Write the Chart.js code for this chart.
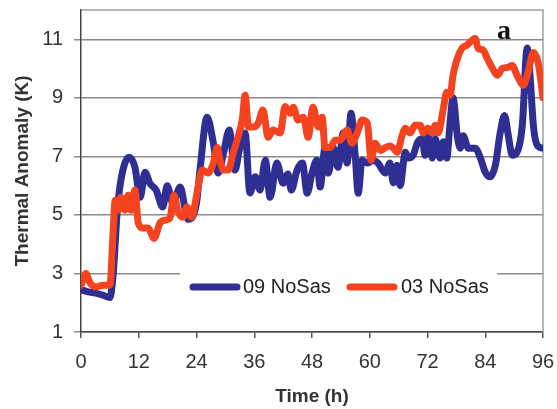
<!DOCTYPE html>
<html>
<head>
<meta charset="utf-8">
<script src="https://cdn.jsdelivr.net/npm/chart.js@4/dist/chart.umd.min.js"></script>
<style>
  html, body { margin: 0; padding: 0; background: #fff; }
  #wrap { width: 557px; height: 409px; }
</style>
</head>
<body>
<div id="wrap"><canvas id="chart" width="557" height="409"></canvas></div>
<script>
// Series names, as shown in the legend
const seriesNames = ['09 NoSas', '03 NoSas'];

// 09 NoSas: time (h) and thermal anomaly (K)
const hours09 = [0, 1.5, 3, 4.5, 6, 6.7, 7.5, 8.3, 10, 11.2, 12.3, 13.3, 14.3, 15.6, 17, 17.9, 19.1, 20.6, 21.8, 22.3,
  24, 24.7, 26.2, 27.5, 28.5, 29.6, 30.8, 32, 33, 34.1, 35.1, 36.2, 37.2, 38.3, 39.3, 40.7, 42, 43, 43.7, 44.9,
  46, 47, 48, 49, 49.7, 50.7, 51.4, 52.4, 53.4, 54.5, 55.3, 56.1, 57, 57.6, 58.4, 59.5, 60.7, 61.7, 63.2, 64.2,
  64.9, 65.7, 66.3, 67.4, 68, 69, 70, 70.9, 71.5, 72.1, 73, 73.6, 74.6, 75.3, 76, 76.7, 77.3, 78.2, 78.8, 79.4,
  80.5, 81.9, 83, 84, 85, 86.1, 87.1, 88, 88.8, 89.6, 90.6, 91.7, 92.7, 93.3, 94, 94.8, 96];
const anomaly09 = [2.45, 2.37, 2.33, 2.26, 2.18, 3.0, 5.06, 6.2, 6.97, 6.63, 5.6, 6.46, 6.08, 5.85, 5.27, 6.0, 5.4, 5.95, 5.06, 4.85,
  5.4, 6.5, 8.34, 7.45, 6.43, 7.1, 7.9, 6.53, 7.3, 7.8, 5.75, 6.3, 5.85, 6.87, 5.6, 6.77, 6.08, 6.4, 5.85, 6.53,
  6.77, 5.74, 6.43, 6.87, 5.95, 7.3, 6.43, 7.3, 6.63, 7.8, 6.77, 8.47, 6.97, 5.74, 6.87, 6.77, 6.87, 6.77, 6.43, 6.77,
  6.1, 6.7, 6.0, 7.14, 6.94, 7.04, 7.5, 7.6, 7.04, 7.7, 6.94, 7.6, 6.94, 7.5, 6.94, 8.17, 9.0, 7.7, 7.28, 7.7,
  7.28, 7.28, 6.94, 6.46, 6.3, 6.7, 7.8, 8.4, 7.7, 7.04, 7.14, 8.06, 10.7, 9.77, 8.06, 7.38, 7.28];

// 03 NoSas: time (h) and thermal anomaly (K)
const hours03 = [0, 1, 1.9, 3.1, 4.6, 6, 6.7, 7.1, 7.7, 8.3, 9.1, 9.8, 10.4, 11.2, 11.9, 12.9, 13.9, 15.2, 16.4, 17.5,
  18.5, 19.3, 20.2, 21.2, 22, 23, 24.1, 25.2, 26.4, 27.5, 28.3, 28.9, 29.6, 30.6, 31.6, 32.6, 33.5, 34.1, 34.8, 35.8,
  36.8, 37.8, 38.9, 39.9, 41.4, 42.4, 43.5, 44.1, 45.1, 46.2, 47.2, 48.2, 49.3, 50.1, 50.7, 51.8, 52.8, 53.8, 55.3, 56.3,
  57.4, 58.4, 59.5, 60.3, 61.1, 62.2, 63.2, 64.2, 64.9, 65.7, 66.7, 67.4, 68.4, 69.4, 70.5, 71.1, 72.1, 73, 73.6, 74.2,
  75.3, 76, 76.7, 77.3, 78.2, 79.2, 80.2, 81.9, 82.5, 83.6, 84.4, 85.4, 86.5, 87.5, 88.6, 89.6, 90.6, 91.9, 92.9, 94,
  95, 96];
const anomaly03 = [2.6, 3.0, 2.67, 2.54, 2.6, 2.6, 4.5, 5.5, 5.16, 5.6, 5.16, 5.67, 5.16, 5.85, 4.72, 4.55, 4.55, 4.2, 4.72, 4.82,
  4.89, 5.67, 5.1, 4.92, 5.27, 4.92, 5.74, 6.53, 6.43, 6.77, 7.3, 6.87, 6.53, 6.53, 7.1, 7.65, 8.24, 9.09, 8.0, 8.0,
  8.13, 8.58, 7.65, 7.9, 7.8, 8.7, 8.47, 8.68, 8.24, 8.34, 7.65, 8.68, 8.0, 8.34, 7.3, 7.3, 7.55, 7.55, 7.9, 7.45,
  7.8, 8.24, 8.13, 6.87, 7.45, 7.2, 7.3, 7.35, 7.28, 7.14, 7.7, 7.96, 7.8, 8.06, 8.06, 7.8, 7.96, 7.8, 8.06, 7.8,
  8.64, 9.19, 9.09, 9.77, 10.35, 10.7, 10.8, 11.03, 10.7, 10.62, 10.35, 10.04, 9.77, 10.0, 10.04, 10.1, 9.77, 9.43, 9.87, 10.55,
  10.2, 9.0];

// Axis tick values
const xTicks = [0, 12, 24, 36, 48, 60, 72, 84, 96];
const yTicks = [1, 3, 5, 7, 9, 11];

const panelLetter = 'a';

const BLUE = '#2f2e92';
const RED = '#f4431f';
const SANS = '"Liberation Sans", Arial, Helvetica, sans-serif';

function toPoints(xs, ys) {
  return xs.map((x, i) => ({ x: x, y: ys[i] }));
}

// Legend sitting inside the plot on a white box, plus the plot frame and panel letter
const plotDecor = {
  id: 'plotDecor',
  beforeDatasetsDraw(chart) {
    const { ctx, chartArea: a } = chart;
    ctx.save();
    // light frame on top and right of the plot
    ctx.strokeStyle = '#a0a0a0';
    ctx.lineWidth = 1.5;
    ctx.beginPath();
    ctx.moveTo(a.left, a.top);
    ctx.lineTo(a.right, a.top);
    ctx.lineTo(a.right, a.bottom);
    ctx.stroke();

    // legend box
    const box = { left: 180, top: 262, width: 317, height: 48 };
    ctx.fillStyle = '#ffffff';
    ctx.fillRect(box.left, box.top, box.width, box.height);
    const cy = box.top + box.height / 2 + 1;
    const items = [
      { sx: 190, tx: 243, ds: chart.data.datasets[0] },
      { sx: 347, tx: 401, ds: chart.data.datasets[1] }
    ];
    ctx.font = '20px ' + SANS;
    ctx.textBaseline = 'middle';
    ctx.textAlign = 'left';
    items.forEach(it => {
      ctx.strokeStyle = it.ds.borderColor;
      ctx.lineWidth = 7;
      ctx.lineCap = 'round';
      ctx.beginPath();
      ctx.moveTo(it.sx + 3, cy);
      ctx.lineTo(it.sx + 47, cy);
      ctx.stroke();
      ctx.fillStyle = '#222';
      ctx.fillText(it.ds.label, it.tx, cy);
    });
    ctx.restore();
  },
  afterDatasetsDraw(chart) {
    const { ctx } = chart;
    ctx.save();
    ctx.font = 'bold 28px "Liberation Serif", "Times New Roman", serif';
    ctx.fillStyle = '#111';
    ctx.textBaseline = 'alphabetic';
    ctx.textAlign = 'left';
    ctx.fillText(panelLetter, 497, 39);
    ctx.restore();
  }
};

new Chart(document.getElementById('chart'), {
  type: 'line',
  data: {
    datasets: [
      {
        label: seriesNames[0],
        data: toPoints(hours09, anomaly09),
        borderColor: BLUE,
        borderWidth: 7,
        pointRadius: 0,
        fill: false,
        cubicInterpolationMode: 'monotone',
        borderJoinStyle: 'round',
        borderCapStyle: 'round',
        order: 1
      },
      {
        label: seriesNames[1],
        data: toPoints(hours03, anomaly03),
        borderColor: RED,
        borderWidth: 7,
        pointRadius: 0,
        fill: false,
        cubicInterpolationMode: 'monotone',
        borderJoinStyle: 'round',
        borderCapStyle: 'round',
        order: 0
      }
    ]
  },
  options: {
    responsive: false,
    animation: false,
    devicePixelRatio: 1,
    layout: { padding: { left: 0, right: 14, top: 10, bottom: 0 } },
    plugins: { legend: { display: false }, tooltip: { enabled: false } },
    scales: {
      x: {
        type: 'linear',
        min: 0,
        max: 96,
        afterBuildTicks: s => { s.ticks = xTicks.map(v => ({ value: v })); },
        afterFit: s => { s.height = 77; s.paddingLeft = 0; s.paddingRight = 0; },
        grid: { drawOnChartArea: false, tickLength: 6, color: '#555', lineWidth: 1.5 },
        border: { color: '#444', width: 1.5 },
        ticks: { font: { family: SANS, size: 20 }, color: '#333', padding: 12, maxRotation: 0, autoSkip: false },
        title: { display: true, text: 'Time (h)', font: { family: SANS, size: 19, weight: 'bold' }, color: '#333', padding: { top: 0, bottom: 1 } }
      },
      y: {
        type: 'linear',
        min: 1,
        max: 12,
        afterBuildTicks: s => { s.ticks = yTicks.map(v => ({ value: v })); },
        afterFit: s => { s.width = 81; s.paddingTop = 0; s.paddingBottom = 0; },
        grid: { color: '#8a8a8a', lineWidth: 1.5, tickLength: 7 },
        border: { color: '#444', width: 1.5 },
        ticks: { font: { family: SANS, size: 20 }, color: '#333', padding: 11 },
        title: { display: true, text: 'Thermal Anomaly (K)', font: { family: SANS, size: 19, weight: 'bold' }, color: '#333', padding: { top: 11, bottom: 0 } }
      }
    }
  },
  plugins: [plotDecor]
});
</script>
</body>
</html>
